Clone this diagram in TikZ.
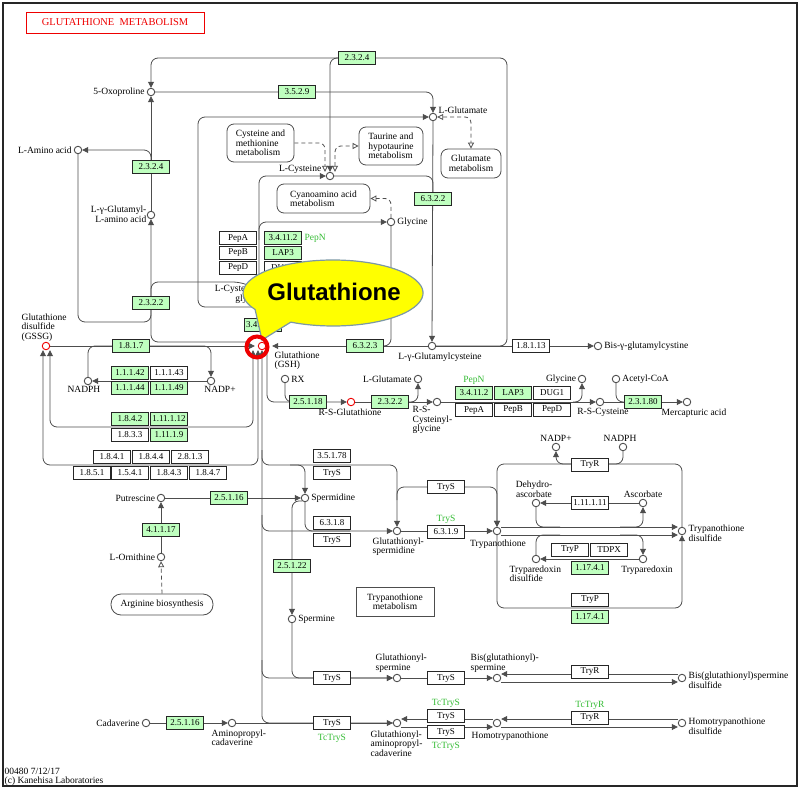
\documentclass[tikz,border=0pt]{standalone}
\usepackage{fontspec}
\setmainfont{Liberation Serif}
\newfontfamily\calloutfont{Liberation Sans}
\usetikzlibrary{arrows.meta,positioning}
\pgfdeclarelayer{bg}
\pgfdeclarelayer{top}
\pgfsetlayers{bg,main,top}
\definecolor{kgreen}{HTML}{BFFFBF}
\definecolor{kgtext}{HTML}{33BB33}
\definecolor{kred}{HTML}{EE0000}
\definecolor{kline}{HTML}{4D4D4D}
\definecolor{kyellow}{HTML}{FFFF00}
\definecolor{kedge}{HTML}{7C98A6}
\newcommand{\kf}{\fontsize{9.5pt}{9.5pt}\selectfont}
\newcommand{\ef}{\fontsize{9pt}{9pt}\selectfont}
\tikzset{
  cpd/.style={circle,draw=kline,line width=0.9pt,fill=white,inner sep=0pt,minimum size=7.5pt},
  rcpd/.style={cpd,draw=kred},
  enz/.style={draw=black!85,line width=0.7pt,fill=white,minimum width=37pt,minimum height=13pt,inner sep=0pt,font=\ef},
  genz/.style={enz,fill=kgreen},
  lbl/.style={inner sep=0.5pt,font=\kf},
  glbl/.style={lbl,text=kgtext},
  mapbox/.style={draw=kline,line width=0.8pt,rounded corners=7pt,fill=white,font=\kf,inner sep=0pt},
  rxn/.style={draw=kline,line width=0.8pt,rounded corners=7pt},
  fwd/.style={-{Triangle[length=6pt,width=6pt]}},
  bwd/.style={{Triangle[length=6pt,width=6pt]}-},
  both/.style={{Triangle[length=6pt,width=6pt]}-{Triangle[length=6pt,width=6pt]}},
  link/.style={draw=kline,line width=0.8pt,dash pattern=on 4pt off 3pt,rounded corners=6pt},
  ofwd/.style={-{Triangle[open,length=6pt,width=6pt]}},
  oboth/.style={{Triangle[open,length=6pt,width=6pt]}-{Triangle[open,length=6pt,width=6pt]}},
}
\begin{document}
\begin{tikzpicture}[x=1pt,y=-1pt]
\useasboundingbox (0,0) rectangle (800,789);
\draw[line width=1.2pt,black!85] (3,3) rectangle (797,786);
\node[draw=kred,line width=0.8pt,text=kred,minimum width=178pt,minimum height=21pt,inner sep=0pt,font=\fontsize{10.5pt}{11pt}\selectfont] (title) at (115,22.5) {GLUTATHIONE\ \ METABOLISM};

% compounds
\node[cpd] (oxo) at (151,92) {};
\node[lbl,left=1.5pt of oxo] (loxo) {5-Oxoproline};
\node[cpd] (glu1) at (433,117) {};
\node[lbl,anchor=west] (lglu1) at (438,110) {L-Glutamate};
\node[cpd] (aa) at (78,150) {};
\node[lbl,left=1.5pt of aa] (laa) {L-Amino acid};
\node[cpd] (cys) at (330,176) {};
\node[lbl,anchor=east] (lcys) at (322,169) {L-Cysteine};
\node[cpd] (gly1) at (391,222) {};
\node[lbl,right=1.5pt of gly1] (lgly1) {Glycine};
\node[cpd] (gglu) at (151,215) {};
\node[lbl,align=right,anchor=east] (lgglu) at (147,214) {L-γ-Glutamyl-\\L-amino acid};
\node[cpd] (cgly) at (270,294) {};
\node[lbl,align=right,anchor=east] (lcgly) at (264,294) {L-Cysteinyl-\\glycine};
\node[rcpd] (gssg) at (46,346) {};
\node[lbl,align=left,anchor=south west] (lgssg) at (21,342) {Glutathione\\disulfide\\(GSSG)};
\node[rcpd] (gsh) at (262,346) {};
\node[lbl,align=left,anchor=north west] (lgsh) at (274,351) {Glutathione\\(GSH)};
\node[cpd] (gcys) at (432,346) {};
\node[lbl,anchor=north] (lgcys) at (440,352) {L-γ-Glutamylcysteine};
\node[cpd] (bisg) at (598,346) {};
\node[lbl,right=1.5pt of bisg] (lbisg) {Bis-γ-glutamylcystine};
\node[cpd] (nadph1) at (88,381) {};
\node[lbl,anchor=north] (lnadph1) at (84,386) {NADPH};
\node[cpd] (nadp1) at (211,381) {};
\node[lbl,anchor=north] (lnadp1) at (220,386) {NADP+};
\node[cpd] (rx) at (285,379) {};
\node[lbl,right=1.5pt of rx] (lrx) {RX};
\node[cpd] (glu2) at (418,379) {};
\node[lbl,left=1.5pt of glu2] (lglu2) {L-Glutamate};
\node[cpd] (gly2) at (582,379) {};
\node[lbl,left=1pt of gly2] (lgly2) {Glycine};
\node[cpd] (acoa) at (616,379) {};
\node[lbl,right=1.5pt of acoa] (lacoa) {Acetyl-CoA};
\node[rcpd] (rsg) at (351,402) {};
\node[lbl,anchor=north] (lrsg) at (350,408) {R-S-Glutathione};
\node[cpd] (rscg) at (437,402) {};
\node[lbl,align=left,anchor=north west] (lrscg) at (412,406) {R-S-\\Cysteinyl-\\glycine};
\node[cpd] (rsc) at (600,402) {};
\node[lbl,anchor=north] (lrsc) at (603,408) {R-S-Cysteine};
\node[cpd] (merc) at (687,402) {};
\node[lbl,anchor=north] (lmerc) at (694,408) {Mercapturic acid};
\node[cpd] (nadp2) at (556,447) {};
\node[lbl,anchor=south] (lnadp2) at (556,442) {NADP+};
\node[cpd] (nadph2) at (623,447) {};
\node[lbl,anchor=south] (lnadph2) at (620,442) {NADPH};
\node[cpd] (dha) at (536,503) {};
\node[lbl,align=center,anchor=south] (ldha) at (534,498) {Dehydro-\\ascorbate};
\node[cpd] (asc) at (643,503) {};
\node[lbl,anchor=south] (lasc) at (643,498) {Ascorbate};
\node[cpd] (tsst) at (682,531) {};
\node[lbl,align=left,anchor=west] (ltsst) at (688,533) {Trypanothione\\disulfide};
\node[cpd] (tsh) at (497,531) {};
\node[lbl,anchor=north] (ltsh) at (498,539) {Trypanothione};
\node[cpd] (gsp) at (397,531) {};
\node[lbl,align=left,anchor=north west] (lgsp) at (372,537) {Glutathionyl-\\spermidine};
\node[cpd] (spd) at (305,498) {};
\node[lbl,right=1.5pt of spd] (lspd) {Spermidine};
\node[cpd] (put) at (161,498) {};
\node[lbl,left=1pt of put] (lput) {Putrescine};
\node[cpd] (orn) at (161,557) {};
\node[lbl,left=1pt of orn] (lorn) {L-Ornithine};
\node[cpd] (trxss) at (536,559) {};
\node[lbl,align=left,anchor=north west] (ltrxss) at (509,565) {Tryparedoxin\\disulfide};
\node[cpd] (trx) at (643,559) {};
\node[lbl,anchor=north] (ltrx) at (647,565) {Tryparedoxin};
\node[cpd] (spm) at (292,619) {};
\node[lbl,right=1.5pt of spm] (lspm) {Spermine};
\node[cpd] (gspm) at (397,678) {};
\node[lbl,align=left,anchor=south west] (lgspm) at (375,673) {Glutathionyl-\\spermine};
\node[cpd] (bgspm) at (497,678) {};
\node[lbl,align=left,anchor=south west] (lbgspm) at (470,673) {Bis(glutathionyl)-\\spermine};
\node[cpd] (bgss) at (682,678) {};
\node[lbl,align=left,anchor=west] (lbgss) at (688,680) {Bis(glutathionyl)spermine\\disulfide};
\node[cpd] (cad) at (146,723) {};
\node[lbl,left=1.5pt of cad] (lcad) {Cadaverine};
\node[cpd] (apc) at (232,723) {};
\node[lbl,align=left,anchor=north west] (lapc) at (211,729) {Aminopropyl-\\cadaverine};
\node[cpd] (gapc) at (397,723) {};
\node[lbl,align=left,anchor=north west] (lgapc) at (370,730) {Glutathionyl-\\aminopropyl-\\cadaverine};
\node[cpd] (htsh) at (497,723) {};
\node[lbl,anchor=north] (lhtsh) at (510,731) {Homotrypanothione};
\node[cpd] (htss) at (682,723) {};
\node[lbl,align=left,anchor=west] (lhtss) at (688,726) {Homotrypanothione\\disulfide};

% pathway maps
\node[mapbox,align=left,minimum width=67pt,minimum height=38pt] (cysmet) at (260.5,143) {Cysteine and\\methionine\\metabolism};
\node[mapbox,align=left,minimum width=64pt,minimum height=38pt] (taurine) at (391,146) {Taurine and\\hypotaurine\\metabolism};
\node[mapbox,align=center,minimum width=60pt,minimum height=29pt] (glumet) at (471,163.5) {Glutamate\\metabolism};
\node[mapbox,align=left,minimum width=93pt,minimum height=29pt] (cyano) at (323.5,198.5) {Cyanoamino acid\\metabolism};
\node[mapbox,rounded corners=10pt,minimum width=102pt,minimum height=21pt] (argbox) at (162,604.5) {Arginine biosynthesis};
\node[mapbox,rounded corners=0pt,align=center,minimum width=78pt,minimum height=29pt] (trymet) at (395,601.5) {Trypanothione\\metabolism};

% enzymes
\node[genz] (e2324a) at (357,58) {2.3.2.4};
\node[genz] (e3529) at (297,92) {3.5.2.9};
\node[genz] (e2324b) at (151,167) {2.3.2.4};
\node[genz] (e6322) at (433,199) {6.3.2.2};
\node[genz] (e2322a) at (151,303) {2.3.2.2};
\node[genz] (e34112a) at (283,238) {3.4.11.2};
\node[genz] (lap3a) at (283,253) {LAP3};
\node[enz] (pepaa) at (238,238) {PepA};
\node[enz] (pepba) at (238,253) {PepB};
\node[enz] (pepda) at (238,268) {PepD};
\node[enz] (dug1a) at (283,268) {DUG1};
\node[genz] (e341913) at (263,325) {3.4.19.13};
\node[genz] (e1817) at (131,346) {1.8.1.7};
\node[genz] (e11142) at (130,373) {1.1.1.42};
\node[enz] (e11143) at (169,373) {1.1.1.43};
\node[genz] (e11144) at (130,388) {1.1.1.44};
\node[genz] (e11149) at (169,388) {1.1.1.49};
\node[genz] (e1842) at (130,419) {1.8.4.2};
\node[genz] (e111112) at (169,419) {1.11.1.12};
\node[enz] (e1833) at (130,435) {1.8.3.3};
\node[genz] (e11119) at (169,435) {1.11.1.9};
\node[enz] (e1841) at (112,457) {1.8.4.1};
\node[enz] (e1844) at (151,457) {1.8.4.4};
\node[enz] (e2813) at (190,457) {2.8.1.3};
\node[enz] (e1851) at (92,473) {1.8.5.1};
\node[enz] (e1541) at (130,473) {1.5.4.1};
\node[enz] (e1843) at (169,473) {1.8.4.3};
\node[enz] (e1847) at (208,473) {1.8.4.7};
\node[genz] (e6323) at (365,346) {6.3.2.3};
\node[enz] (e18113) at (531,346) {1.8.1.13};
\node[genz] (e25118) at (308,402) {2.5.1.18};
\node[genz] (e2322b) at (390,402) {2.3.2.2};
\node[genz] (e34112b) at (474,393) {3.4.11.2};
\node[genz] (lap3b) at (513,393) {LAP3};
\node[enz] (dug1b) at (552,393) {DUG1};
\node[enz] (pepab) at (474,410) {PepA};
\node[enz] (pepbb) at (513,410) {PepB};
\node[enz] (pepdb) at (552,410) {PepD};
\node[genz] (e23180) at (643,402) {2.3.1.80};
\node[genz] (e25116a) at (229,498) {2.5.1.16};
\node[genz] (e41117) at (161,530) {4.1.1.17};
\node[enz] (e35178) at (332,456) {3.5.1.78};
\node[enz] (trysa) at (332,473) {TryS};
\node[enz] (e6318) at (332,523) {6.3.1.8};
\node[enz] (trysb) at (332,540) {TryS};
\node[enz] (trysc) at (446,487) {TryS};
\node[enz] (e6319) at (446,532) {6.3.1.9};
\node[genz] (e25122) at (292,566) {2.5.1.22};
\node[enz] (tryra) at (590,465) {TryR};
\node[enz] (e111111) at (590,503) {1.11.1.11};
\node[enz] (trypa) at (570,550) {TryP};
\node[enz] (tdpx) at (609,550) {TDPX};
\node[genz] (e11741a) at (590,568) {1.17.4.1};
\node[enz] (trypb) at (590,600) {TryP};
\node[genz] (e11741b) at (590,617) {1.17.4.1};
\node[enz] (trysd) at (332,678) {TryS};
\node[enz] (tryse) at (446,678) {TryS};
\node[enz] (tryrb) at (590,672) {TryR};
\node[genz] (e25116b) at (185,723) {2.5.1.16};
\node[enz] (trysf) at (332,723) {TryS};
\node[enz] (trysg) at (446,716) {TryS};
\node[enz] (trysh) at (446,732) {TryS};
\node[enz] (tryrc) at (590,718) {TryR};

% gene names in green
\node[glbl,anchor=west] (pepn1) at (304,238) {PepN};
\node[glbl] (pepn2) at (474,380) {PepN};
\node[glbl] (trysl) at (446,519) {TryS};
\node[glbl] (tctrys1) at (332,738) {TcTryS};
\node[glbl] (tctrys2) at (446,703) {TcTryS};
\node[glbl] (tctrys3) at (446,746) {TcTryS};
\node[glbl] (tctryr) at (590,705) {TcTryR};

\node[lbl,anchor=west] (code) at (4,771) {00480 7/12/17};
\node[lbl,anchor=west] (copy) at (4,781) {(c) Kanehisa Laboratories};

\begin{pgfonlayer}{bg}
% upper part
\draw[rxn,fwd] (gcys.east) -- (507,346) -- (507,58) -- (151,58) -- (oxo.north);
\draw[rxn,fwd] (e2324a.west) -| (cys.north);
\draw[rxn,fwd] (oxo.east) -| (glu1.north);
\draw[rxn,fwd] (gglu.north) -- (oxo.south);
\draw[rxn,fwd] (e2324b.north) |- (aa.east);
\draw[rxn,fwd] (250,342) -| (gglu.south);
\draw[rxn] (aa.south) -- (78,322) -- (151,322) -- (151,305);
\draw[rxn] (151,300) |- (240,282) -- (cgly);
\draw[rxn,fwd] (cgly) -- (262,307) -| (198,117) -- (glu1.west);
\draw[rxn,fwd] (cgly) -- (259,280) |- (cys.west);
\draw[rxn,fwd] (259,240) |- (gly1.west);
\draw[rxn] (cys.east) -| (433,200);
\draw[rxn,fwd] (glu1.south) -- (gcys.north);
\draw[rxn] (gly1.south) |- (365,346);
\draw[rxn,fwd] (gcys.west) -- ([xshift=6pt]gsh.east);
\draw[rxn,fwd] (gcys.east) -- (bisg.west);
% glutathione redox
\draw[rxn,fwd] (gssg.east) -- ([xshift=-3pt]gsh.west);
\draw[rxn] (nadph1.north) |- (115,346);
\draw[rxn,fwd] (150,346) -| (nadp1.north);
\draw[rxn,fwd] (nadp1.west) -- (nadph1.east);
\draw[rxn,both] ([xshift=-9pt]gsh.south) -- (253,427) -| ([xshift=4pt]gssg.south);
\draw[rxn,both] ([xshift=-4pt]gsh.south) -- (258,465) -| ([xshift=-3pt]gssg.south);
% mercapturic acid
\draw[rxn] (rx.south) |- (298,402);
\draw[rxn,fwd] ([xshift=5pt]gsh.south) |- (rsg.west);
\draw[rxn,fwd] (rsg.east) -- (rscg.west);
\draw[rxn,fwd] (409,402) -| (glu2.south);
\draw[rxn,fwd] (rscg.east) -- (rsc.west);
\draw[rxn,fwd] (573,402) -| (gly2.south);
\draw[rxn,fwd] (rsc.east) -- (merc.west);
\draw[rxn] (acoa.south) |- (628,402);
% trypanothione
\draw[rxn,bwd] (gsh.south) |- (gapc.west);
\draw[rxn,fwd] (262,450) |- (330,465) -| (gsp.north);
\draw[rxn,fwd] (290,465) -| (spd.north);
\draw[rxn,fwd] (put.east) -- (spd.west);
\draw[rxn,fwd] (orn.north) -- (put.south);
\draw[link,ofwd] (argbox.north) -- (orn.south);
\draw[rxn] (spd.south) |- (350,531);
\draw[rxn,fwd] (262,515) |- (gsp.west);
\draw[rxn,fwd] (gsp.east) -- (tsh.west);
\draw[rxn,fwd] (397,500) |- (446,487) -| (tsh.north);
\draw[rxn,fwd] (spd.south west) -| (spm.north);
\draw[rxn,fwd] (tsst.north) |- (590,464) -| (tsh.north);
\draw[rxn] (nadph2.south) |- (600,464);
\draw[rxn,fwd] (575,464) -| (nadp2.south);
\draw[rxn,fwd] ([yshift=4pt]tsh.east) -- ([yshift=4pt]tsst.west);
\draw[rxn,fwd] ([yshift=-4pt]tsh.east) -- ([yshift=-4pt]tsst.west);
\draw[rxn] (dha.south) |- (560,527);
\draw[rxn,fwd] (620,527) -| (asc.south);
\draw[rxn,fwd] (asc.west) -- (dha.east);
\draw[rxn] (trxss.north) |- (560,535);
\draw[rxn,fwd] (620,535) -| (trx.north);
\draw[rxn,fwd] (trx.west) -- (trxss.east);
\draw[rxn,fwd] (tsh.south) |- (590,608) -| (tsst.south);
\draw[rxn,fwd] (spm.south) |- (gspm.west);
\draw[rxn,fwd] (262,660) |- (gspm.west);
\draw[rxn,fwd] (gspm.east) -- (bgspm.west);
\draw[rxn,fwd] ([yshift=4pt]bgss.west) -- ([yshift=4pt]bgspm.east);
\draw[rxn,fwd] ([yshift=-4pt]bgspm.east) -- ([yshift=-4pt]bgss.west);
\draw[rxn,fwd] (cad.east) -- (apc.west);
\draw[rxn,fwd] (apc.east) -- (gapc.west);
\draw[rxn,fwd] ([yshift=4pt]htsh.west) -- ([yshift=4pt]gapc.east);
\draw[rxn,fwd] ([yshift=-4pt]gapc.east) -- ([yshift=-4pt]htsh.west);
\draw[rxn,fwd] ([yshift=4pt]htss.west) -- ([yshift=4pt]htsh.east);
\draw[rxn,fwd] ([yshift=-4pt]htsh.east) -- ([yshift=-4pt]htss.west);
% links to other maps
\draw[link,ofwd] (cysmet.east) -| ([xshift=-5pt]cys.north);
\draw[link,oboth] ([xshift=5pt]cys.north) |- (taurine.west);
\draw[link,oboth] (glu1.east) -| (glumet.north);
\draw[link,ofwd] (gly1.north) |- (cyano.east);
\end{pgfonlayer}

\begin{pgfonlayer}{top}
\draw[kedge,line width=1.2pt,fill=kyellow] (255.1,309.5) arc[start angle=150,end angle=478,x radius=90,y radius=33] -- (262,340) -- cycle;
\node[font=\calloutfont\bfseries\fontsize{24pt}{24pt}\selectfont] (callout) at (334,292) {Glutathione};
\draw[kred,line width=4pt] (257,347) circle[radius=10.5];
\end{pgfonlayer}
\end{tikzpicture}
\end{document}
